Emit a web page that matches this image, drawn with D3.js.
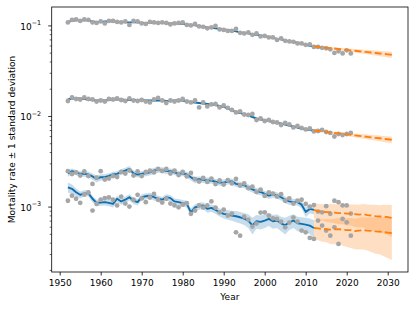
<!DOCTYPE html>
<html><head><meta charset="utf-8">
<script src="https://cdn.jsdelivr.net/npm/d3@7"></script>
<style>
html,body{margin:0;padding:0;background:#fff;}
svg{display:block;font-family:"DejaVu Sans",sans-serif;}
</style></head>
<body><svg id="c" width="416" height="310"></svg>
<script>
// ---------- data ----------
const obsYears = d3.range(1952, 2022);   // observed years
const fitYears = d3.range(1952, 2013);   // fitted years
const fcYears  = d3.range(2012, 2032);   // forecast years
const xTicks = [1950, 1960, 1970, 1980, 1990, 2000, 2010, 2020, 2030];
const yTicks = [1e-3, 1e-2, 1e-1];
const yTickLabels = [["10","\u22123"],["10","\u22122"],["10","\u22121"]];

const s1Obs = [.1079,.1150,.1165,.1121,.1165,.1150,.1079,.1066,.1107,.1052,
 .1121,.1121,.1093,.1079,.1107,.1013,.1121,.1107,.1052,.1039,
 .1093,.1079,.1066,.1079,.1066,.1026,.1052,.1066,.1079,.1013,
 .1000,.1039,.0975,.0963,.0927,.0950,.0987,.0903,.0892,.0869,
 .0869,.0915,.0827,.0816,.0837,.0786,.0816,.0756,.0766,.0737,
 .0737,.0692,.0719,.0675,.0666,.0658,.0633,.0633,.0610,.0617,
 .0579,.0579,.0565,.0558,.0544,.0497,.0517,.0491,.0530,.0491];
const s1Fit = [.1093,.1121,.1136,.1136,.1136,.1136,.1107,.1093,.1093,.1107,
 .1107,.1107,.1093,.1093,.1079,.1079,.1079,.1079,.1066,.1066,
 .1066,.1066,.1066,.1066,.1052,.1052,.1052,.1039,.1039,.1026,
 .1013,.1000,.0987,.0963,.0950,.0938,.0927,.0915,.0903,.0892,
 .0880,.0859,.0837,.0827,.0816,.0795,.0786,.0776,.0756,.0747,
 .0728,.0710,.0701,.0683,.0666,.0658,.0641,.0625,.0610,.0594,
 .0587];
const s1FitSd = [.0021,.0020,.0020,.0020,.0020,.0020,.0020,.0019,.0019,.0019,
 .0019,.0019,.0019,.0019,.0019,.0019,.0019,.0019,.0019,.0019,
 .0019,.0019,.0019,.0019,.0018,.0018,.0018,.0018,.0018,.0018,
 .0018,.0018,.0017,.0017,.0017,.0017,.0016,.0016,.0016,.0016,
 .0016,.0015,.0015,.0015,.0015,.0014,.0014,.0014,.0014,.0013,
 .0013,.0013,.0013,.0012,.0012,.0012,.0012,.0011,.0011,.0011,
 .0012];
const s1Fc = [.0587,.0580,.0574,.0567,.0561,.0555,.0549,.0542,.0536,.0530,
 .0525,.0519,.0513,.0507,.0502,.0496,.0490,.0485,.0479,.0474];
const s1FcSd = [.0007,.0009,.0011,.0012,.0014,.0016,.0017,.0019,.0020,.0022,
 .0024,.0025,.0027,.0028,.0030,.0031,.0033,.0034,.0036,.0038];

const s2Obs = [.01464,.01601,.01541,.01521,.01601,.01541,.01521,.01446,.01483,.01446,
 .01541,.01521,.01561,.01502,.01464,.01561,.01483,.01464,.01502,.01446,
 .01410,.01521,.01581,.01483,.01392,.01483,.01446,.01483,.01541,.01446,
 .01410,.01483,.01242,.01410,.01274,.01340,.01357,.01242,.01306,.01226,
 .01166,.01094,.01122,.01039,.01026,.01052,.00903,.00938,.00880,.00903,
 .00858,.00848,.00795,.00837,.00806,.00747,.00776,.00737,.00710,.00728,
 .00675,.00683,.00701,.00666,.00650,.00594,.00633,.00617,.00633,.00650];
const s2Fit = [.01521,.01561,.01561,.01561,.01541,.01521,.01502,.01483,.01483,.01483,
 .01502,.01521,.01521,.01521,.01502,.01502,.01502,.01502,.01502,.01483,
 .01483,.01483,.01483,.01483,.01464,.01464,.01483,.01483,.01483,.01446,
 .01428,.01410,.01392,.01374,.01357,.01340,.01323,.01290,.01258,.01211,
 .01151,.01108,.01080,.01039,.01013,.00975,.00938,.00915,.00903,.00880,
 .00858,.00837,.00826,.00806,.00785,.00766,.00747,.00728,.00710,.00701,
 .00692];
const s2FitSd = [.00032,.00030,.00030,.00030,.00029,.00029,.00029,.00028,.00028,.00028,
 .00029,.00029,.00029,.00029,.00029,.00029,.00029,.00029,.00029,.00028,
 .00028,.00028,.00028,.00028,.00028,.00028,.00028,.00028,.00028,.00027,
 .00027,.00027,.00026,.00026,.00026,.00025,.00025,.00025,.00024,.00023,
 .00022,.00021,.00021,.00020,.00019,.00019,.00018,.00018,.00017,.00017,
 .00016,.00016,.00016,.00015,.00015,.00015,.00014,.00014,.00014,.00014,
 .00015];
const s2Fc = [.00692,.00683,.00675,.00667,.00658,.00650,.00642,.00634,.00626,.00618,
 .00611,.00603,.00596,.00588,.00581,.00574,.00567,.00560,.00553,.00546];
const s2FcSd = [.00010,.00012,.00014,.00016,.00018,.00020,.00022,.00024,.00026,.00028,
 .00030,.00032,.00034,.00035,.00037,.00039,.00041,.00043,.00045,.00047];

const s3Obs = [.00246,.00229,.00238,.00220,.00244,.00217,.00178,.00209,.00246,.00199,
 .00204,.00217,.00212,.00241,.00232,.00250,.00220,.00244,.00217,.00241,
 .00250,.00238,.00260,.00247,.00260,.00232,.00250,.00223,.00241,.00215,
 .00235,.00201,.00189,.00207,.00187,.00204,.00177,.00194,.00175,.00196,
 .00180,.00202,.00171,.00180,.00160,.00166,.00145,.00154,.00131,.00143,
 .00139,.00129,.00137,.00116,.00123,.00108,.00116,.00119,.00107,.00100,
 .00104,.000881,.000865,.00101,.000831,.00116,.00112,.00103,.00103,.000837];
const s3Fit = [.00233,.00246,.00238,.00230,.00230,.00226,.00215,.00202,.00211,.00211,
 .00218,.00226,.00230,.00242,.00250,.00261,.00233,.00226,.00230,.00233,
 .00239,.00250,.00254,.00254,.00246,.00246,.00239,.00230,.00233,.00226,
 .00211,.00197,.00200,.00197,.00194,.00194,.00188,.00184,.00184,.00189,
 .00190,.00178,.00175,.00172,.00163,.00155,.00148,.00145,.00138,.00132,
 .00136,.00133,.00127,.00119,.00114,.00112,.00112,.00105,.000874,.000943,
 .000920];
const s3FitSd = [.00019,.00017,.00016,.00016,.00017,.00016,.00017,.00018,.00017,.00016,
 .00016,.00017,.00016,.00017,.00018,.00019,.00017,.00016,.00016,.00017,
 .00018,.00019,.00018,.00017,.00018,.00017,.00016,.00017,.00016,.00016,
 .00017,.00016,.00015,.00015,.00015,.00014,.00014,.00014,.00015,.00014,
 .00014,.00013,.00013,.00013,.00013,.00012,.00012,.00012,.00011,.00011,
 .00011,.00011,.00010,.00010,.00010,.00009,.00009,.00010,.00011,.00010,
 .00010];
const s3Fc = [.000920,.000892,.000881,.000869,.000869,.000858,.000848,.000848,.000837,.000837,
 .000826,.000816,.000826,.000806,.000796,.000785,.000776,.000776,.000766,.000750];
const s3FcSd = [.00017,.00018,.00018,.00019,.00020,.00020,.00021,.00021,.00022,.00022,
 .00023,.00023,.00024,.00025,.00025,.00026,.00026,.00027,.00028,.00029];

const s4Obs = [.00116,.00132,.00122,.00110,.00136,.00143,.000903,.00107,.00119,.00124,
 .00126,.00119,.00103,.00129,.00108,.00100,.00119,.00135,.00123,.00112,
 .00126,.00138,.00119,.00111,.00122,.00108,.00103,.000982,.00105,.00109,
 .000831,.000903,.00103,.000975,.00103,.00114,.000975,.000865,.000927,.000796,
 .000837,.000520,.000478,.000776,.000718,.000601,.000649,.000858,.000865,.000796,
 .000742,.000731,.000683,.000590,.000666,.000756,.000683,.000543,.000520,.000451,
 .000440,.000701,.000617,.000543,.000478,.000590,.000387,.000731,.000671,.000478];
const s4Fit = [.00163,.00157,.00144,.00135,.00140,.00140,.00122,.00110,.00111,.00112,
 .00110,.00107,.00122,.00114,.00119,.00127,.00116,.00112,.00127,.00130,
 .00132,.00127,.00122,.00119,.00127,.00124,.00114,.00112,.00109,.00107,
 .000865,.000982,.00101,.00103,.000943,.000967,.000920,.000865,.000831,.000816,
 .000796,.000782,.000762,.000737,.000701,.000621,.000688,.000678,.000701,.000731,
 .000688,.000701,.000654,.000621,.000671,.000701,.000654,.000644,.000633,.000617,
 .000581];
const s4FitSd = [.00021,.00018,.00014,.00012,.00011,.00011,.00010,.00009,.00009,.00009,
 .00009,.00009,.00010,.00009,.00010,.00010,.00009,.00009,.00010,.00010,
 .00010,.00010,.00010,.00009,.00010,.00010,.00009,.00009,.00009,.00009,
 .00009,.00008,.00009,.00009,.00009,.00009,.00009,.00009,.00009,.00010,
 .00010,.00011,.00011,.00011,.00012,.00013,.00012,.00012,.00012,.00012,
 .00012,.00012,.00012,.00013,.00012,.00012,.00012,.00012,.00012,.00012,
 .00013];
const s4Fc = [.000581,.000574,.000567,.000563,.000557,.000560,.000564,.000557,.000550,.000550,
 .000536,.000543,.000550,.000543,.000539,.000532,.000529,.000523,.000516,.000507];
const s4FcSd = [.000141,.000150,.000158,.000160,.000170,.000175,.000182,.000186,.000192,.000200,
 .000198,.000208,.000214,.000216,.000224,.000230,.000232,.000240,.000246,.000249];

const series = [
  {obs:s1Obs, fit:s1Fit, fitSd:s1FitSd, fc:s1Fc, fcSd:s1FcSd},
  {obs:s2Obs, fit:s2Fit, fitSd:s2FitSd, fc:s2Fc, fcSd:s2FcSd},
  {obs:s3Obs, fit:s3Fit, fitSd:s3FitSd, fc:s3Fc, fcSd:s3FcSd},
  {obs:s4Obs, fit:s4Fit, fitSd:s4FitSd, fc:s4Fc, fcSd:s4FcSd}
];
series.forEach((s,i)=>{
  if (s.obs.length!==obsYears.length || s.fit.length!==fitYears.length || s.fitSd.length!==fitYears.length ||
      s.fc.length!==fcYears.length || s.fcSd.length!==fcYears.length)
    throw new Error("length mismatch in series "+(i+1));
});

// ---------- layout ----------
const L=51.7, R=408, T=7, B=272;
const svg = d3.select("#c");
const x = d3.scaleLinear().domain([1948.05, 2034.95]).range([L, R]);
const y = d3.scaleLog().domain([Math.pow(10,-3.722), Math.pow(10,-0.797)]).range([B, T]);

const BLUE="#0f6fad", ORANGE="#ff7f0e", GREY="#a6a6a6";

svg.append("clipPath").attr("id","clip").append("rect")
  .attr("x",L).attr("y",T).attr("width",R-L).attr("height",B-T);
const g = svg.append("g").attr("clip-path","url(#clip)");

const band = (years, m, sd) => d3.area()
  .x((d,i)=>x(years[i])).y0((d,i)=>y(Math.max(m[i]-sd[i],1e-6))).y1((d,i)=>y(m[i]+sd[i]))(m);
const line = (years) => d3.line().x((d,i)=>x(years[i])).y(d=>y(d));

series.forEach(s=>{
  g.append("path").attr("d",band(fitYears,s.fit,s.fitSd)).attr("fill","#1f77b4").attr("fill-opacity",0.25);
});
series.forEach(s=>{
  g.append("path").attr("d",band(fcYears,s.fc,s.fcSd)).attr("fill",ORANGE).attr("fill-opacity",0.25);
});
series.forEach(s=>{
  g.append("path").attr("d",line(fitYears)(s.fit)).attr("fill","none")
   .attr("stroke",BLUE).attr("stroke-width",1.9).attr("stroke-linejoin","round");
});
series.forEach(s=>{
  g.append("g").selectAll("circle").data(s.obs).join("circle")
   .attr("cx",(d,i)=>x(obsYears[i])).attr("cy",d=>y(d)).attr("r",2.4).attr("fill",GREY);
});
series.forEach(s=>{
  g.append("path").attr("d",line(fcYears)(s.fc)).attr("fill","none")
   .attr("stroke",ORANGE).attr("stroke-width",1.9).attr("stroke-dasharray","7,3.2");
});

// ---------- axes ----------
const xa = svg.append("g").attr("transform",`translate(0,${B})`)
  .call(d3.axisBottom(x).tickValues(xTicks).tickFormat(d3.format("d")).tickSize(3.5).tickPadding(4.5));
xa.select(".domain").remove();
xa.selectAll("text").attr("font-size",9).attr("font-family","DejaVu Sans").attr("fill","#000");
xa.selectAll("line").attr("stroke","#000").attr("stroke-width",0.8);

const minor = [];
for (let e=-4;e<=-1;e++) for (let k=2;k<=9;k++){ const v=k*Math.pow(10,e); if(v>=y.domain()[0]&&v<=y.domain()[1]) minor.push(v); }
const ym = svg.append("g").attr("transform",`translate(${L},0)`)
  .call(d3.axisLeft(y).tickValues(minor).tickFormat("").tickSize(2));
ym.select(".domain").remove();
ym.selectAll("line").attr("stroke","#000").attr("stroke-width",0.6);

const ya = svg.append("g").attr("transform",`translate(${L},0)`)
  .call(d3.axisLeft(y).tickValues(yTicks).tickFormat("").tickSize(3.5));
ya.select(".domain").remove();
ya.selectAll("line").attr("stroke","#000").attr("stroke-width",0.8);
yTicks.forEach((v,i)=>{
  const t = svg.append("text").attr("x",L-10.5).attr("y",y(v)+4.2)
    .attr("text-anchor","end").attr("font-size",9).attr("fill","#000");
  t.append("tspan").text(yTickLabels[i][0]);
  t.append("tspan").attr("dy",-4.3).attr("font-size",6.4).text(yTickLabels[i][1]);
});

svg.append("rect").attr("x",L).attr("y",T).attr("width",R-L).attr("height",B-T)
  .attr("fill","none").attr("stroke","#000").attr("stroke-width",0.8);

svg.append("text").attr("x",(L+R)/2).attr("y",300).attr("text-anchor","middle")
  .attr("font-size",9).attr("fill","#000").text("Year");
svg.append("text").attr("transform",`translate(14.5,${(T+B)/2}) rotate(-90)`)
  .attr("text-anchor","middle").attr("font-size",9).attr("fill","#000")
  .text("Mortality rate \u00b1 1 standard deviation");
</script></body></html>
